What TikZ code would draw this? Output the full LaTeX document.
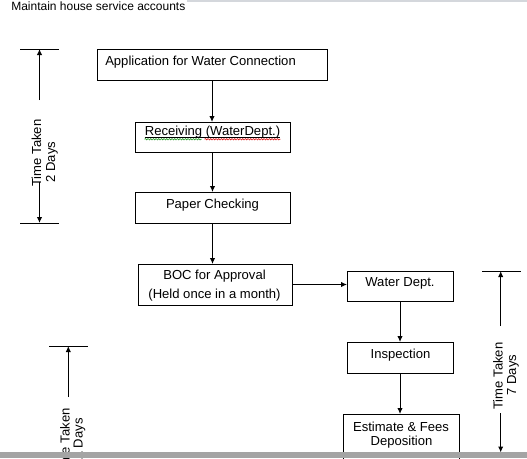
\documentclass[tikz,border=0pt]{standalone}
\usepackage{fontspec}
\setmainfont{Liberation Sans}
\usetikzlibrary{arrows.meta,decorations.pathmorphing}
\definecolor{barlight}{HTML}{D4D7DC}
\definecolor{bardark}{HTML}{A4A4A4}
\definecolor{spellgreen}{HTML}{2E9E2E}
\definecolor{spellred}{HTML}{E02020}
\begin{document}
\begin{tikzpicture}[x=0.75pt,y=-0.75pt,
  box/.style={draw, line width=0.75pt, inner sep=0pt, outer sep=0pt},
  lbl/.style={inner sep=0pt, font=\fontsize{9.8}{11}\selectfont},
  arr/.style={-{Latex[length=4.5pt,width=4pt]}, line width=0.75pt},
  dim/.style={line width=0.75pt},
  wavy/.style={line width=0.5pt, decorate, decoration={snake, amplitude=0.5pt, segment length=2pt}}]
\useasboundingbox (0,0) rectangle (527,458);
\fill[white] (0,0) rectangle (527,458);

% title
\node[inner sep=0pt, font=\fontsize{9}{11}\selectfont, anchor=base west] (title) at (11,10) {Maintain house service accounts};

% boxes
\node[box, minimum width=172.5pt, minimum height=23.25pt] (b1) at (212,64.5) {};
\node[box, minimum width=116.25pt, minimum height=22.5pt] (b2) at (212.5,137) {};
\node[box, minimum width=116.25pt, minimum height=23.25pt] (b3) at (212.5,207.5) {};
\node[box, minimum width=115.5pt, minimum height=30.75pt] (b4) at (215,284.5) {};
\node[box, minimum width=79.5pt, minimum height=22.5pt] (b5) at (400,286) {};
\node[box, minimum width=79.5pt, minimum height=23.25pt] (b6) at (400,357.5) {};
\node[box, minimum width=87pt, minimum height=42pt] (b7) at (401,442) {};

% box texts
\node[lbl, anchor=base west] (t1) at (105,65) {Application for Water Connection};
\node[lbl, anchor=base] (t2) at (212.5,135.5) {Receiving (WaterDept.)};
\node[lbl, anchor=base] (t3) at (212.5,208) {Paper Checking};
\node[lbl, anchor=base] (t4a) at (214.5,279) {BOC for Approval};
\node[lbl, anchor=base] (t4b) at (214.5,298) {(Held once in a month)};
\node[lbl, anchor=base] (t5) at (400,286) {Water Dept.};
\node[lbl, anchor=base] (t6) at (400.5,358) {Inspection};
\node[lbl, anchor=base] (t7a) at (401,431) {Estimate \& Fees};
\node[lbl, anchor=base] (t7b) at (401.5,445) {Deposition};

% underline and spell-check marks
\draw[line width=0.6pt] ([yshift=-1.2pt]t2.base west) -- ([yshift=-1.2pt]t2.base east);
\draw[wavy, spellgreen] ([yshift=-2.8pt]t2.base west) -- ++(57,0);
\path ([yshift=-2.8pt]t2.base west) ++(60,0) coordinate (r0);
\draw[wavy, spellred] (r0) -- ([yshift=-2.8pt]t2.base east);

% connectors
\draw[arr] (b1.south) -- (b1.south |- b2.north);
\draw[arr] (b2.south) -- (b2.south |- b3.north);
\draw[arr] (b3.south) -- (b3.south |- b4.north);
\draw[arr] (b4.east) -- (b4.east -| b5.west);
\draw[arr] (b5.south) -- (b5.south |- b6.north);
\draw[arr] (b6.south) -- (b6.south |- b7.north);

% time marker 1
\coordinate (m1a) at (39.5,100);
\coordinate (m1b) at (39.5,49);
\coordinate (m1c) at (39.5,182);
\coordinate (m1d) at (39.5,223);
\draw[dim] (20,49) -- (59,49);
\draw[dim] (20,223) -- (59,223);
\draw[arr] (m1a) -- (m1b);
\draw[arr] (m1c) -- (m1d);
\node[lbl, rotate=90, anchor=base] (m1t) at (41,153) {Time Taken};
\node[lbl, rotate=90, anchor=base] (m1d2) at (55,162) {2 Days};

% time marker 2
\coordinate (m2a) at (500.7,326);
\coordinate (m2b) at (500.7,271);
\coordinate (m2c) at (500.7,413);
\coordinate (m2d) at (500.7,452.5);
\draw[dim] (482,271) -- (521,271);
\draw[arr] (m2a) -- (m2b);
\draw[arr] (m2c) -- (m2d);
\node[lbl, rotate=90, anchor=base] (m2t) at (502.5,376) {Time Taken};
\node[lbl, rotate=90, anchor=base] (m2d2) at (516,375) {7 Days};

% time marker 3
\coordinate (m3a) at (68.3,397);
\coordinate (m3b) at (68.3,346);
\draw[dim] (49,346) -- (88,346);
\draw[arr] (m3a) -- (m3b);
\node[lbl, rotate=90, anchor=base east] (m3t) at (69.5,408) {Time Taken};
\node[lbl, rotate=90, anchor=base east] (m3d2) at (82.5,418) {11 Days};

% window bars
\fill[barlight] (187,0) rectangle (527,2);
\fill[bardark] (0,452) rectangle (527,458);
\end{tikzpicture}
\end{document}
